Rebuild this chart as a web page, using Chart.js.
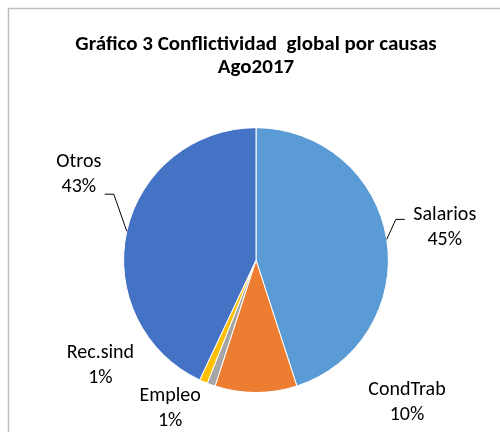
<!DOCTYPE html>
<html lang="es">
<head>
    <meta charset="UTF-8" />
    <title>Conflictividad global por causas</title>
    <script src="https://cdn.jsdelivr.net/npm/chart.js"></script>
    <style>
        body {
            margin: 0;
            padding: 0;
            background-color: #ffffff;
        }

        .chart-container {
            width: 500px;
            height: 432px;
            position: relative;
        }
    </style>
</head>
<body>
    <div class="chart-container">
        <canvas id="causasChart"></canvas>
    </div>

    <script>
        const causas = ['Salarios', 'CondTrab', 'Empleo', 'Rec.sind', 'Otros'];
        const porcentajes = [45, 10, 1, 1, 43];
        const colors = ['#5B9BD5', '#ED7D31', '#A5A5A5', '#FFC000', '#4472C4'];

        // label placement relative to the slice edge point (Excel "best fit" look)
        const labelPlacement = [
            { dx: 58, dy: -12, leader: [[-49, -8], [-40, -8]] },
            { dx: 151, dy: 9 },
            { dx: -41, dy: 23 },
            { dx: -103, dy: -17 },
            { dx: -48, dy: -57, leader: [[35, 20], [26, 20]] }
        ];

        const fontFamily = "Carlito, Calibri, 'Liberation Sans', Arial, sans-serif";

        const frame = {
            id: 'frame',
            beforeDraw(chart) {
                const c = chart.ctx;
                c.save();
                c.fillStyle = '#ffffff';
                c.fillRect(0, 0, chart.width, chart.height);
                c.strokeStyle = '#BFBFBF';
                c.lineWidth = 1.5;
                c.strokeRect(8.5, 8.5, chart.width + 20, chart.height + 20);
                c.restore();
            }
        };

        const sliceLabels = {
            id: 'sliceLabels',
            afterDatasetsDraw(chart) {
                const c = chart.ctx;
                const meta = chart.getDatasetMeta(0);
                c.save();
                c.font = '20px ' + fontFamily;
                c.fillStyle = '#000000';
                c.textAlign = 'center';
                c.textBaseline = 'middle';
                meta.data.forEach((arc, i) => {
                    const mid = (arc.startAngle + arc.endAngle) / 2;
                    const ex = arc.x + Math.cos(mid) * arc.outerRadius;
                    const ey = arc.y + Math.sin(mid) * arc.outerRadius;
                    const p = labelPlacement[i];
                    const tx = ex + p.dx;
                    const ty = ey + p.dy;
                    c.fillText(causas[i], tx, ty - 12);
                    c.fillText(porcentajes[i] + '%', tx, ty + 13);
                    if (p.leader) {
                        c.beginPath();
                        c.strokeStyle = '#000000';
                        c.lineWidth = 1;
                        c.moveTo(ex, ey);
                        c.lineTo(tx + p.leader[0][0], ty + p.leader[0][1]);
                        c.lineTo(tx + p.leader[1][0], ty + p.leader[1][1]);
                        c.stroke();
                    }
                });
                c.restore();
            }
        };

        const ctx = document.getElementById('causasChart').getContext('2d');

        new Chart(ctx, {
            type: 'pie',
            data: {
                labels: causas,
                datasets: [{
                    data: porcentajes,
                    backgroundColor: colors,
                    borderColor: '#ffffff',
                    borderWidth: 1
                }]
            },
            options: {
                responsive: true,
                maintainAspectRatio: false,
                animation: false,
                layout: {
                    padding: { top: 0, bottom: 39, left: 12, right: 0 }
                },
                plugins: {
                    legend: { display: false },
                    tooltip: { enabled: false },
                    title: {
                        display: true,
                        text: ['Gráfico 3 Conflictividad  global por causas', 'Ago2017'],
                        color: '#000000',
                        font: { family: fontFamily, size: 21, weight: 'bold', lineHeight: 1.1 },
                        padding: { top: 33, bottom: 48 }
                    }
                }
            },
            plugins: [frame, sliceLabels]
        });
    </script>
</body>
</html>
